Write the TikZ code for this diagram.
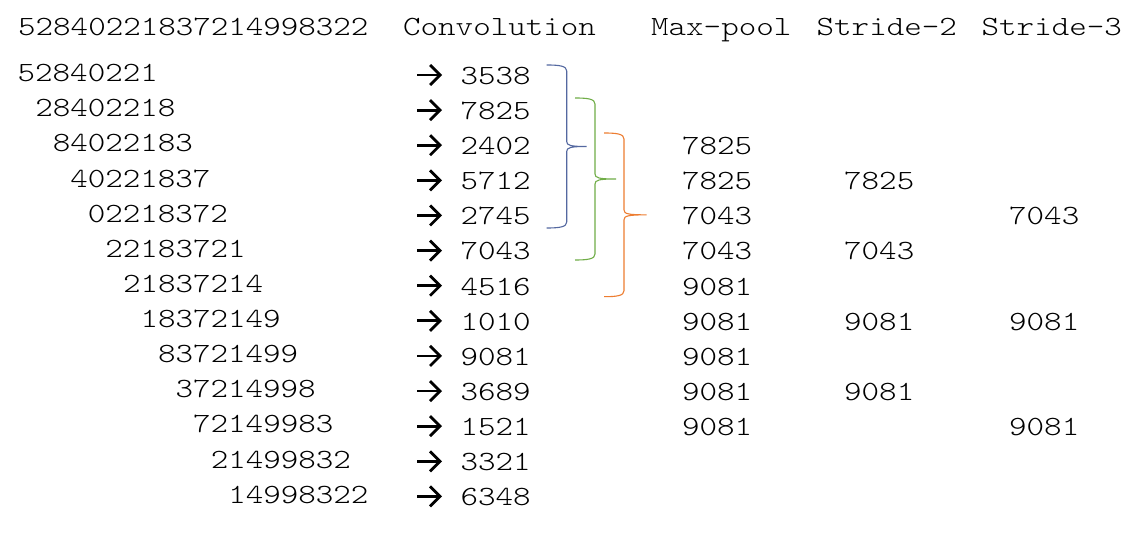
\documentclass[tikz,border=0pt]{standalone}
\usepackage{fontspec}
\newfontfamily\cour[FakeStretch=1.2]{Latin Modern Mono Light}
\usetikzlibrary{arrows.meta}
\definecolor{bbl}{RGB}{84,104,160}
\definecolor{bgr}{RGB}{112,173,71}
\definecolor{bor}{RGB}{237,125,49}
\newcommand\mybrace[7]{% #1 name, #2 color, #3 x0, #4 xv, #5 xtip, #6 top, #7 bottom
  \coordinate (#1) at (#5,{(#6+#7)/2});
  \draw[#2, line width=1.1pt, line join=round]
    (#3,#6) .. controls (#4-7,#6) and (#4,#6+1) .. (#4,#6+6)
    -- (#4,{(#6+#7)/2-5}) .. controls (#4,{(#6+#7)/2-1}) and (#4+4,{(#6+#7)/2}) .. (#1)
    (#1) .. controls (#4+4,{(#6+#7)/2}) and (#4,{(#6+#7)/2+1}) .. (#4,{(#6+#7)/2+5})
    -- (#4,#7-6) .. controls (#4,#7-1) and (#4-7,#7) .. (#3,#7);
}
\begin{document}
\begin{tikzpicture}[x=1pt,y=-1pt,
  t/.style={anchor=base west, inner sep=0pt, font=\cour\fontsize{27.8}{30}\selectfont},
  arr/.style={line width=2.8pt, -{Straight Barb[length=10pt,width=20pt,line width=2.8pt]}}]
\useasboundingbox[fill=white] (0,0) rectangle (1141,534);
% headers
\node[t] (title) at (18,35.7) {52840221837214998322};
\node[t] (hconv) at (403,35.7) {Convolution};
\node[t] (hmax) at (651,35.7) {Max-pool};
\node[t] (hs2) at (816.5,35.7) {Stride-2};
\node[t] (hs3) at (981.5,35.7) {Stride-3};
% windows
\foreach \s [count=\i from 0] in {52840221,28402218,84022183,40221837,02218372,22183721,21837214,18372149,83721499,37214998,72149983,21499832,14998322}
  \node[t] (row\i) at (17.5+17.55*\i, 81.7+35.12*\i) {\s};
% convolution outputs and arrows
\foreach \s [count=\i from 0] in {3538,7825,2402,5712,2745,7043,4516,1010,9081,3689,1521,3321,6348}{
  \node[t] (conv\i) at (460.5, 84.3+35.12*\i) {\s};
  \coordinate (as\i) at (417, 84.3+35.12*\i-9.3);
  \coordinate (ae\i) at (442, 84.3+35.12*\i-9.3);
  \draw[arr] (as\i) -- (ae\i);
}
% max-pool
\foreach \s [count=\i from 2] in {7825,7825,7043,7043,9081,9081,9081,9081,9081}
  \node[t] (mp\i) at (682, 84.3+35.12*\i) {\s};
% stride-2
\foreach \r/\s in {3/7825,5/7043,7/9081,9/9081}
  \node[t] (sa\r) at (844, 84.3+35.12*\r) {\s};
% stride-3
\foreach \r/\s in {4/7043,7/9081,10/9081}
  \node[t] (sb\r) at (1009, 84.3+35.12*\r) {\s};
% braces
\mybrace{b1}{bbl}{546.7}{566.7}{586.7}{65}{228}
\mybrace{b2}{bgr}{575}{595}{616}{98}{260}
\mybrace{b3}{bor}{604}{624}{646.7}{133}{296.7}
\end{tikzpicture}
\end{document}
